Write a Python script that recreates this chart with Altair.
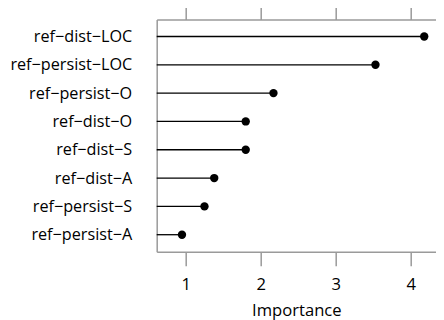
import altair as alt
import pandas as pd

names = ["ref−dist−LOC", "ref−persist−LOC", "ref−persist−O", "ref−dist−O",
         "ref−dist−S", "ref−dist−A", "ref−persist−S", "ref−persist−A"]
importance = [4.18, 3.53, 2.17, 1.80, 1.80, 1.38, 1.25, 0.95]
x_ticks = [1, 2, 3, 4]

df = pd.DataFrame({"name": names, "importance": importance})

FONT = "Open Sans"
FS = 16.6
YFS = 16.2
AX = "#9a9a9a"
xscale = alt.Scale(domain=[0.613, 4.337], nice=False, zero=False)
yenc = alt.Y("name:N", sort=names, scale=alt.Scale(type="point", padding=0.6),
             axis=alt.Axis(title=None, ticks=False, labelPadding=25, domainColor=AX,
                           domainWidth=1.5, labelFont=FONT, labelFontSize=YFS,
                           labelColor="black"))

rules = alt.Chart(df).mark_rule(color="black", strokeWidth=1.3).encode(
    x=alt.X("importance:Q", scale=xscale,
            axis=alt.Axis(orient="bottom", values=x_ticks, title="Importance",
                          tickSize=14, tickColor=AX, tickWidth=1.5, domainColor=AX,
                          domainWidth=1.5, labelPadding=11, labelFont=FONT,
                          labelFontSize=FS, labelColor="black", titleFont=FONT,
                          titleFontSize=FS, titleFontWeight="normal",
                          titleColor="black", titlePadding=9, grid=False)),
    x2=alt.value(0),
    y=yenc,
)

points = alt.Chart(df).mark_point(filled=True, color="black", size=70, opacity=1).encode(
    x=alt.X("importance:Q", scale=xscale,
            axis=alt.Axis(orient="top", values=x_ticks, title=None, labels=False,
                          tickSize=15, tickColor=AX, tickWidth=1.5, domainColor=AX,
                          domainWidth=1.5, grid=False)),
    y=yenc,
)

chart = alt.layer(rules, points).resolve_axis(x="independent").properties(
    width=279.3, height=232.2,
    autosize=alt.AutoSizeParams(type="none"),
    padding={"left": 148.7, "top": 11.5, "right": 0, "bottom": 68.3},
).configure_view(stroke=None).configure_axis(grid=False)

chart.save("out.html", embed_options={"renderer": "svg", "actions": False})
